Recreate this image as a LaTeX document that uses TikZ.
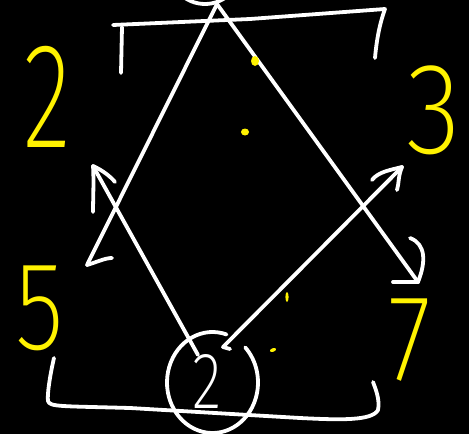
\documentclass[tikz,border=0pt]{standalone}
\usepackage{fontspec}
\newfontfamily\hand{Fira Sans ExtraLight}
\begin{document}
\begin{tikzpicture}[x=1pt,y=1pt,
  wl/.style={white,line width=3.8pt,line cap=round,line join=round},
  ydot/.style={yellow},
  num/.style={yellow,inner sep=0pt,outer sep=0pt},
  wnum/.style={white,inner sep=0pt,outer sep=0pt}]
\fill[black] (0,0) rectangle (469,-434);
\useasboundingbox (0,0) rectangle (469,-434);
% named points
\coordinate (tc) at (205,32);
\coordinate (bc) at (212.5,-382.5);
\coordinate (apex) at (217,-4);
\coordinate (tipL) at (87,-265);
\coordinate (tipR) at (418,-282);
\coordinate (sUL) at (198,-355);
\coordinate (tipUL) at (93,-166);
\coordinate (sUR) at (223,-347);
\coordinate (tipUR) at (402,-167);
% top circle (mostly off the page)
\begin{scope}
\clip (0,0) rectangle (469,-434);
\draw[wl] (tc) circle[radius=36];
\end{scope}
% top bracket
\draw[wl] (113,-25) -- (250,-19) -- (385,-9) .. controls (381,-20) and (377,-35) .. (375,-58);
\draw[wl] (122,-27) -- (121,-73);
% bottom bracket
\draw[wl] (54,-358) .. controls (50,-375) and (47,-395) .. (48,-401)
  .. controls (50,-407) and (60,-406) .. (130,-408)
  -- (300,-418) .. controls (340,-420) and (372,-421) .. (378,-410)
  .. controls (380,-400) and (376,-390) .. (373,-382);
% bottom circle with gap
\draw[wl] ([shift={(72:45.5 and 50.5)}]bc) arc[start angle=72,end angle=404,x radius=45.5,y radius=50.5];
% lines from the top circle
\draw[wl] (apex) -- (tipL);
\draw[wl] (tipL) .. controls (97,-262) and (105,-258) .. (112,-258);
\draw[wl] (apex) -- (tipR);
\draw[wl] (tipR) -- (393,-282);
\draw[wl] (tipR) .. controls (426,-262) and (426,-244) .. (410,-238);
% lines from the bottom circle
\draw[wl] (sUL) -- (tipUL);
\draw[wl] (tipUL) .. controls (102,-170) and (110,-176) .. (115,-182);
\draw[wl] (tipUL) .. controls (94,-180) and (93,-200) .. (93,-212);
\draw[wl] (230,-349) -- (sUR) -- (tipUR);
\draw[wl] (tipUR) .. controls (390,-170) and (378,-172) .. (372,-180);
\draw[wl] (tipUR) .. controls (398,-176) and (399,-184) .. (397,-190);
% numbers
\node[num] (n2) at (47,-97) {\scalebox{0.67}[1]{\hand\fontsize{150}{150}\selectfont 2}};
\node[num] (n3) at (434,-110) {\scalebox{0.87}[1]{\hand\fontsize{130}{130}\selectfont 3}};
\node[num] (n5) at (40,-308) {\scalebox{0.8}[1]{\hand\fontsize{126}{126}\selectfont 5}};
\node[num] (n7) at (410,-340) {\scalebox{0.8}[1]{\hand\fontsize{123}{123}\selectfont 7}};
\node[wnum] (c2) at (207,-381) {\scalebox{0.77}[1]{\hand\fontsize{80}{80}\selectfont 2}};
% yellow dots
\fill[ydot] (255,-61) ellipse[x radius=4,y radius=5];
\fill[ydot] (245,-132) ellipse[x radius=4,y radius=3.5];
\fill[ydot] (287,-297) ellipse[x radius=1.6,y radius=5];
\fill[ydot,rotate around={20:(273,-350)}] (273,-350) ellipse[x radius=3.2,y radius=1.8];
\end{tikzpicture}
\end{document}
